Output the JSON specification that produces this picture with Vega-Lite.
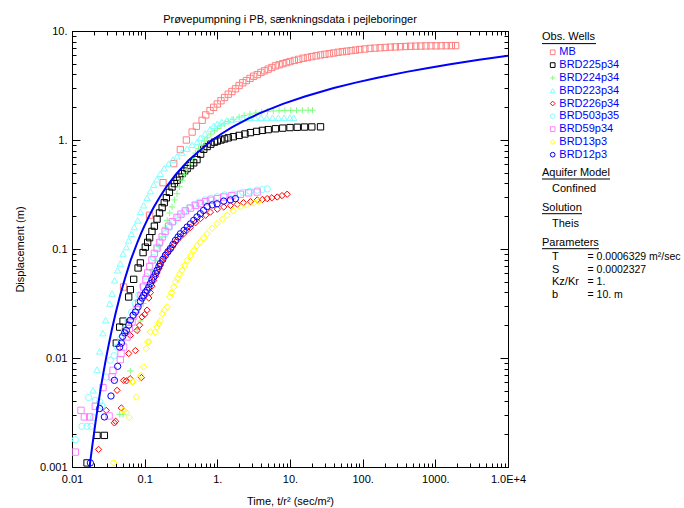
{
  "$schema": "https://vega.github.io/schema/vega-lite/v6.json",
  "padding": {"left": 13, "top": 13, "right": 0, "bottom": 0},
  "background": "white",
  "config": {"font": "Liberation Sans", "view": {"stroke": null}},
  "spacing": 23,
  "bounds": "flush",
  "datasets": {
    "obs": [
      {"well":"MB","t":0.0513,"s":0.0448},{"well":"MB","t":0.117,"s":0.204},{"well":"MB","t":0.179,"s":0.406},{"well":"MB","t":0.251,"s":0.607},{"well":"MB","t":0.310,"s":0.817},{"well":"MB","t":0.375,"s":1.0},{"well":"MB","t":0.450,"s":1.183},{"well":"MB","t":0.515,"s":1.337},{"well":"MB","t":0.618,"s":1.517},{"well":"MB","t":0.692,"s":1.698},{"well":"MB","t":0.794,"s":1.862},{"well":"MB","t":0.891,"s":1.995},{"well":"MB","t":1.0,"s":2.138},{"well":"MB","t":1.122,"s":2.291},{"well":"MB","t":1.259,"s":2.455},{"well":"MB","t":1.413,"s":2.630},{"well":"MB","t":1.585,"s":2.786},{"well":"MB","t":1.778,"s":2.951},{"well":"MB","t":1.995,"s":3.162},{"well":"MB","t":2.239,"s":3.350},{"well":"MB","t":2.512,"s":3.508},{"well":"MB","t":2.818,"s":3.673},{"well":"MB","t":3.162,"s":3.846},{"well":"MB","t":3.548,"s":3.981},{"well":"MB","t":3.981,"s":4.169},{"well":"MB","t":4.467,"s":4.315},{"well":"MB","t":5.012,"s":4.467},{"well":"MB","t":5.623,"s":4.624},{"well":"MB","t":6.310,"s":4.786},{"well":"MB","t":7.079,"s":4.898},{"well":"MB","t":7.943,"s":5.012},{"well":"MB","t":8.913,"s":5.129},{"well":"MB","t":10.0,"s":5.248},{"well":"MB","t":11.48,"s":5.370},{"well":"MB","t":13.18,"s":5.495},{"well":"MB","t":15.14,"s":5.623},{"well":"MB","t":17.38,"s":5.715},{"well":"MB","t":19.95,"s":5.821},{"well":"MB","t":22.91,"s":5.916},{"well":"MB","t":26.30,"s":6.026},{"well":"MB","t":30.20,"s":6.109},{"well":"MB","t":34.67,"s":6.194},{"well":"MB","t":39.81,"s":6.281},{"well":"MB","t":45.71,"s":6.383},{"well":"MB","t":52.48,"s":6.457},{"well":"MB","t":60.26,"s":6.531},{"well":"MB","t":69.18,"s":6.607},{"well":"MB","t":79.43,"s":6.683},{"well":"MB","t":91.20,"s":6.761},{"well":"MB","t":107.2,"s":6.839},{"well":"MB","t":125.9,"s":6.918},{"well":"MB","t":147.9,"s":6.966},{"well":"MB","t":173.8,"s":7.015},{"well":"MB","t":204.2,"s":7.063},{"well":"MB","t":239.9,"s":7.112},{"well":"MB","t":281.8,"s":7.145},{"well":"MB","t":331.1,"s":7.178},{"well":"MB","t":389.0,"s":7.211},{"well":"MB","t":457.1,"s":7.244},{"well":"MB","t":537.0,"s":7.261},{"well":"MB","t":631.0,"s":7.278},{"well":"MB","t":741.3,"s":7.295},{"well":"MB","t":871.0,"s":7.311},{"well":"MB","t":1023,"s":7.311},{"well":"MB","t":1202,"s":7.328},{"well":"MB","t":1413,"s":7.328},{"well":"MB","t":1660,"s":7.345},{"well":"MB","t":1905,"s":7.345},
      {"well":"BRD225p34","t":0.0161,"s":0.00109},{"well":"BRD225p34","t":0.0221,"s":0.00195},{"well":"BRD225p34","t":0.0279,"s":0.00195},{"well":"BRD225p34","t":0.0407,"s":0.0137},{"well":"BRD225p34","t":0.0453,"s":0.0192},{"well":"BRD225p34","t":0.0504,"s":0.0218},{"well":"BRD225p34","t":0.0603,"s":0.0363},{"well":"BRD225p34","t":0.0635,"s":0.0424},{"well":"BRD225p34","t":0.0706,"s":0.0527},{"well":"BRD225p34","t":0.0811,"s":0.0670},{"well":"BRD225p34","t":0.0873,"s":0.0745},{"well":"BRD225p34","t":0.0951,"s":0.0927},{"well":"BRD225p34","t":0.102,"s":0.104},{"well":"BRD225p34","t":0.110,"s":0.115},{"well":"BRD225p34","t":0.117,"s":0.127},{"well":"BRD225p34","t":0.126,"s":0.145},{"well":"BRD225p34","t":0.136,"s":0.162},{"well":"BRD225p34","t":0.148,"s":0.188},{"well":"BRD225p34","t":0.160,"s":0.214},{"well":"BRD225p34","t":0.174,"s":0.240},{"well":"BRD225p34","t":0.186,"s":0.266},{"well":"BRD225p34","t":0.199,"s":0.295},{"well":"BRD225p34","t":0.219,"s":0.331},{"well":"BRD225p34","t":0.238,"s":0.371},{"well":"BRD225p34","t":0.257,"s":0.398},{"well":"BRD225p34","t":0.279,"s":0.427},{"well":"BRD225p34","t":0.302,"s":0.457},{"well":"BRD225p34","t":0.327,"s":0.492},{"well":"BRD225p34","t":0.355,"s":0.519},{"well":"BRD225p34","t":0.384,"s":0.547},{"well":"BRD225p34","t":0.427,"s":0.582},{"well":"BRD225p34","t":0.473,"s":0.617},{"well":"BRD225p34","t":0.525,"s":0.661},{"well":"BRD225p34","t":0.589,"s":0.741},{"well":"BRD225p34","t":0.650,"s":0.822},{"well":"BRD225p34","t":0.724,"s":0.871},{"well":"BRD225p34","t":0.813,"s":0.916},{"well":"BRD225p34","t":0.912,"s":0.955},{"well":"BRD225p34","t":1.0,"s":0.977},{"well":"BRD225p34","t":1.122,"s":1.0},{"well":"BRD225p34","t":1.259,"s":1.023},{"well":"BRD225p34","t":1.413,"s":1.047},{"well":"BRD225p34","t":1.660,"s":1.072},{"well":"BRD225p34","t":1.995,"s":1.102},{"well":"BRD225p34","t":2.399,"s":1.135},{"well":"BRD225p34","t":2.858,"s":1.169},{"well":"BRD225p34","t":3.467,"s":1.199},{"well":"BRD225p34","t":4.169,"s":1.225},{"well":"BRD225p34","t":5.012,"s":1.245},{"well":"BRD225p34","t":6.310,"s":1.268},{"well":"BRD225p34","t":7.943,"s":1.285},{"well":"BRD225p34","t":10.0,"s":1.300},{"well":"BRD225p34","t":12.59,"s":1.309},{"well":"BRD225p34","t":15.85,"s":1.315},{"well":"BRD225p34","t":19.95,"s":1.318},{"well":"BRD225p34","t":26.30,"s":1.321},
      {"well":"BRD224p34","t":0.0453,"s":0.00304},{"well":"BRD224p34","t":0.0504,"s":0.00304},{"well":"BRD224p34","t":0.0635,"s":0.0076},{"well":"BRD224p34","t":0.0785,"s":0.0182},{"well":"BRD224p34","t":0.0873,"s":0.0218},{"well":"BRD224p34","t":0.0955,"s":0.0316},{"well":"BRD224p34","t":0.110,"s":0.0468},{"well":"BRD224p34","t":0.126,"s":0.0631},{"well":"BRD224p34","t":0.140,"s":0.0787},{"well":"BRD224p34","t":0.158,"s":0.105},{"well":"BRD224p34","t":0.174,"s":0.129},{"well":"BRD224p34","t":0.191,"s":0.158},{"well":"BRD224p34","t":0.204,"s":0.183},{"well":"BRD224p34","t":0.221,"s":0.214},{"well":"BRD224p34","t":0.238,"s":0.243},{"well":"BRD224p34","t":0.257,"s":0.282},{"well":"BRD224p34","t":0.279,"s":0.322},{"well":"BRD224p34","t":0.302,"s":0.372},{"well":"BRD224p34","t":0.327,"s":0.427},{"well":"BRD224p34","t":0.355,"s":0.479},{"well":"BRD224p34","t":0.384,"s":0.537},{"well":"BRD224p34","t":0.417,"s":0.603},{"well":"BRD224p34","t":0.457,"s":0.676},{"well":"BRD224p34","t":0.501,"s":0.759},{"well":"BRD224p34","t":0.550,"s":0.832},{"well":"BRD224p34","t":0.603,"s":0.902},{"well":"BRD224p34","t":0.661,"s":0.977},{"well":"BRD224p34","t":0.724,"s":1.047},{"well":"BRD224p34","t":0.813,"s":1.135},{"well":"BRD224p34","t":0.912,"s":1.216},{"well":"BRD224p34","t":1.0,"s":1.274},{"well":"BRD224p34","t":1.122,"s":1.349},{"well":"BRD224p34","t":1.259,"s":1.413},{"well":"BRD224p34","t":1.413,"s":1.479},{"well":"BRD224p34","t":1.660,"s":1.549},{"well":"BRD224p34","t":1.995,"s":1.622},{"well":"BRD224p34","t":2.344,"s":1.679},{"well":"BRD224p34","t":2.818,"s":1.730},{"well":"BRD224p34","t":3.388,"s":1.770},{"well":"BRD224p34","t":4.074,"s":1.803},{"well":"BRD224p34","t":4.898,"s":1.828},{"well":"BRD224p34","t":5.888,"s":1.845},{"well":"BRD224p34","t":7.079,"s":1.858},{"well":"BRD224p34","t":8.511,"s":1.866},{"well":"BRD224p34","t":10.23,"s":1.871},{"well":"BRD224p34","t":12.30,"s":1.871},{"well":"BRD224p34","t":14.79,"s":1.875},{"well":"BRD224p34","t":17.78,"s":1.875},{"well":"BRD224p34","t":20.42,"s":1.875},
      {"well":"BRD223p34","t":0.0195,"s":0.00505},{"well":"BRD223p34","t":0.0221,"s":0.00783},{"well":"BRD223p34","t":0.0240,"s":0.0115},{"well":"BRD223p34","t":0.0267,"s":0.0169},{"well":"BRD223p34","t":0.0290,"s":0.0222},{"well":"BRD223p34","t":0.0330,"s":0.0316},{"well":"BRD223p34","t":0.0356,"s":0.0390},{"well":"BRD223p34","t":0.0386,"s":0.0516},{"well":"BRD223p34","t":0.0425,"s":0.0638},{"well":"BRD223p34","t":0.0462,"s":0.0735},{"well":"BRD223p34","t":0.0504,"s":0.0908},{"well":"BRD223p34","t":0.0560,"s":0.104},{"well":"BRD223p34","t":0.0603,"s":0.120},{"well":"BRD223p34","t":0.0656,"s":0.138},{"well":"BRD223p34","t":0.0721,"s":0.159},{"well":"BRD223p34","t":0.0802,"s":0.183},{"well":"BRD223p34","t":0.0873,"s":0.219},{"well":"BRD223p34","t":0.0968,"s":0.252},{"well":"BRD223p34","t":0.108,"s":0.295},{"well":"BRD223p34","t":0.120,"s":0.339},{"well":"BRD223p34","t":0.133,"s":0.389},{"well":"BRD223p34","t":0.148,"s":0.437},{"well":"BRD223p34","t":0.164,"s":0.490},{"well":"BRD223p34","t":0.186,"s":0.550},{"well":"BRD223p34","t":0.214,"s":0.607},{"well":"BRD223p34","t":0.245,"s":0.661},{"well":"BRD223p34","t":0.279,"s":0.708},{"well":"BRD223p34","t":0.324,"s":0.767},{"well":"BRD223p34","t":0.384,"s":0.834},{"well":"BRD223p34","t":0.447,"s":0.902},{"well":"BRD223p34","t":0.527,"s":0.959},{"well":"BRD223p34","t":0.585,"s":1.047},{"well":"BRD223p34","t":0.676,"s":1.148},{"well":"BRD223p34","t":0.794,"s":1.259},{"well":"BRD223p34","t":0.891,"s":1.349},{"well":"BRD223p34","t":1.0,"s":1.413},{"well":"BRD223p34","t":1.148,"s":1.462},{"well":"BRD223p34","t":1.349,"s":1.507},{"well":"BRD223p34","t":1.585,"s":1.542},{"well":"BRD223p34","t":1.905,"s":1.567},{"well":"BRD223p34","t":2.291,"s":1.585},{"well":"BRD223p34","t":2.754,"s":1.596},{"well":"BRD223p34","t":3.311,"s":1.603},{"well":"BRD223p34","t":3.981,"s":1.603},{"well":"BRD223p34","t":4.786,"s":1.603},{"well":"BRD223p34","t":5.754,"s":1.603},{"well":"BRD223p34","t":6.918,"s":1.603},{"well":"BRD223p34","t":8.318,"s":1.603},{"well":"BRD223p34","t":10.0,"s":1.603},{"well":"BRD223p34","t":11.22,"s":1.603},
      {"well":"BRD226p34","t":0.0232,"s":0.00145},{"well":"BRD226p34","t":0.0296,"s":0.00331},{"well":"BRD226p34","t":0.0383,"s":0.00254},{"well":"BRD226p34","t":0.0398,"s":0.00263},{"well":"BRD226p34","t":0.0478,"s":0.00348},{"well":"BRD226p34","t":0.0417,"s":0.00505},{"well":"BRD226p34","t":0.0514,"s":0.00624},{"well":"BRD226p34","t":0.0562,"s":0.00617},{"well":"BRD226p34","t":0.0631,"s":0.00646},{"well":"BRD226p34","t":0.0902,"s":0.00661},{"well":"BRD226p34","t":0.0603,"s":0.0110},{"well":"BRD226p34","t":0.0745,"s":0.0117},{"well":"BRD226p34","t":0.0635,"s":0.0161},{"well":"BRD226p34","t":0.0785,"s":0.0179},{"well":"BRD226p34","t":0.0851,"s":0.0200},{"well":"BRD226p34","t":0.0920,"s":0.0238},{"well":"BRD226p34","t":0.100,"s":0.0251},{"well":"BRD226p34","t":0.108,"s":0.0275},{"well":"BRD226p34","t":0.114,"s":0.0355},{"well":"BRD226p34","t":0.120,"s":0.0398},{"well":"BRD226p34","t":0.126,"s":0.0457},{"well":"BRD226p34","t":0.133,"s":0.0513},{"well":"BRD226p34","t":0.141,"s":0.0562},{"well":"BRD226p34","t":0.148,"s":0.0603},{"well":"BRD226p34","t":0.157,"s":0.0661},{"well":"BRD226p34","t":0.164,"s":0.0708},{"well":"BRD226p34","t":0.174,"s":0.0776},{"well":"BRD226p34","t":0.183,"s":0.0832},{"well":"BRD226p34","t":0.200,"s":0.0912},{"well":"BRD226p34","t":0.219,"s":0.0977},{"well":"BRD226p34","t":0.238,"s":0.104},{"well":"BRD226p34","t":0.257,"s":0.112},{"well":"BRD226p34","t":0.279,"s":0.120},{"well":"BRD226p34","t":0.309,"s":0.129},{"well":"BRD226p34","t":0.344,"s":0.138},{"well":"BRD226p34","t":0.380,"s":0.148},{"well":"BRD226p34","t":0.426,"s":0.158},{"well":"BRD226p34","t":0.501,"s":0.174},{"well":"BRD226p34","t":0.585,"s":0.190},{"well":"BRD226p34","t":0.692,"s":0.204},{"well":"BRD226p34","t":0.804,"s":0.218},{"well":"BRD226p34","t":1.0,"s":0.232},{"well":"BRD226p34","t":1.225,"s":0.243},{"well":"BRD226p34","t":1.514,"s":0.251},{"well":"BRD226p34","t":1.875,"s":0.257},{"well":"BRD226p34","t":2.291,"s":0.266},{"well":"BRD226p34","t":2.858,"s":0.272},{"well":"BRD226p34","t":3.548,"s":0.282},{"well":"BRD226p34","t":4.169,"s":0.285},{"well":"BRD226p34","t":4.853,"s":0.290},{"well":"BRD226p34","t":5.623,"s":0.295},{"well":"BRD226p34","t":6.668,"s":0.300},{"well":"BRD226p34","t":7.762,"s":0.309},{"well":"BRD226p34","t":9.141,"s":0.318},
      {"well":"BRD503p35","t":0.0111,"s":0.00178},{"well":"BRD503p35","t":0.0137,"s":0.00236},{"well":"BRD503p35","t":0.0161,"s":0.00236},{"well":"BRD503p35","t":0.0183,"s":0.00236},{"well":"BRD503p35","t":0.0169,"s":0.00434},{"well":"BRD503p35","t":0.0199,"s":0.00284},{"well":"BRD503p35","t":0.0209,"s":0.00409},{"well":"BRD503p35","t":0.0240,"s":0.00394},{"well":"BRD503p35","t":0.0259,"s":0.00363},{"well":"BRD503p35","t":0.0296,"s":0.00670},{"well":"BRD503p35","t":0.0337,"s":0.00953},{"well":"BRD503p35","t":0.0380,"s":0.0105},{"well":"BRD503p35","t":0.0417,"s":0.0126},{"well":"BRD503p35","t":0.0468,"s":0.0151},{"well":"BRD503p35","t":0.0525,"s":0.0182},{"well":"BRD503p35","t":0.0589,"s":0.0219},{"well":"BRD503p35","t":0.0661,"s":0.0263},{"well":"BRD503p35","t":0.0741,"s":0.0316},{"well":"BRD503p35","t":0.0832,"s":0.0380},{"well":"BRD503p35","t":0.0933,"s":0.0457},{"well":"BRD503p35","t":0.105,"s":0.0562},{"well":"BRD503p35","t":0.117,"s":0.0692},{"well":"BRD503p35","t":0.132,"s":0.0832},{"well":"BRD503p35","t":0.148,"s":0.100},{"well":"BRD503p35","t":0.166,"s":0.117},{"well":"BRD503p35","t":0.191,"s":0.138},{"well":"BRD503p35","t":0.219,"s":0.158},{"well":"BRD503p35","t":0.251,"s":0.178},{"well":"BRD503p35","t":0.295,"s":0.200},{"well":"BRD503p35","t":0.347,"s":0.219},{"well":"BRD503p35","t":0.407,"s":0.240},{"well":"BRD503p35","t":0.479,"s":0.257},{"well":"BRD503p35","t":0.562,"s":0.269},{"well":"BRD503p35","t":0.676,"s":0.282},{"well":"BRD503p35","t":0.813,"s":0.292},{"well":"BRD503p35","t":1.0,"s":0.302},{"well":"BRD503p35","t":1.259,"s":0.313},{"well":"BRD503p35","t":1.683,"s":0.320},{"well":"BRD503p35","t":2.239,"s":0.331},{"well":"BRD503p35","t":2.818,"s":0.339},{"well":"BRD503p35","t":3.548,"s":0.347},{"well":"BRD503p35","t":4.169,"s":0.351},{"well":"BRD503p35","t":4.853,"s":0.356},
      {"well":"BRD59p34","t":0.0111,"s":0.00137},{"well":"BRD59p34","t":0.0133,"s":0.00331},{"well":"BRD59p34","t":0.0148,"s":0.00288},{"well":"BRD59p34","t":0.0175,"s":0.00288},{"well":"BRD59p34","t":0.0209,"s":0.00361},{"well":"BRD59p34","t":0.0267,"s":0.00535},{"well":"BRD59p34","t":0.0324,"s":0.00294},{"well":"BRD59p34","t":0.0356,"s":0.00670},{"well":"BRD59p34","t":0.0367,"s":0.00771},{"well":"BRD59p34","t":0.0462,"s":0.00966},{"well":"BRD59p34","t":0.0473,"s":0.0110},{"well":"BRD59p34","t":0.0514,"s":0.0126},{"well":"BRD59p34","t":0.0573,"s":0.0156},{"well":"BRD59p34","t":0.0615,"s":0.0186},{"well":"BRD59p34","t":0.0670,"s":0.0214},{"well":"BRD59p34","t":0.0706,"s":0.0242},{"well":"BRD59p34","t":0.0769,"s":0.0278},{"well":"BRD59p34","t":0.0826,"s":0.0320},{"well":"BRD59p34","t":0.0891,"s":0.0372},{"well":"BRD59p34","t":0.0968,"s":0.0447},{"well":"BRD59p34","t":0.104,"s":0.0525},{"well":"BRD59p34","t":0.110,"s":0.0603},{"well":"BRD59p34","t":0.117,"s":0.0692},{"well":"BRD59p34","t":0.126,"s":0.0794},{"well":"BRD59p34","t":0.136,"s":0.0912},{"well":"BRD59p34","t":0.148,"s":0.102},{"well":"BRD59p34","t":0.160,"s":0.115},{"well":"BRD59p34","t":0.174,"s":0.129},{"well":"BRD59p34","t":0.191,"s":0.145},{"well":"BRD59p34","t":0.214,"s":0.162},{"well":"BRD59p34","t":0.240,"s":0.178},{"well":"BRD59p34","t":0.279,"s":0.195},{"well":"BRD59p34","t":0.316,"s":0.209},{"well":"BRD59p34","t":0.363,"s":0.224},{"well":"BRD59p34","t":0.426,"s":0.237},{"well":"BRD59p34","t":0.501,"s":0.251},{"well":"BRD59p34","t":0.585,"s":0.261},{"well":"BRD59p34","t":0.692,"s":0.272},{"well":"BRD59p34","t":0.804,"s":0.280},{"well":"BRD59p34","t":1.0,"s":0.290},{"well":"BRD59p34","t":1.225,"s":0.300},{"well":"BRD59p34","t":1.585,"s":0.309},{"well":"BRD59p34","t":2.080,"s":0.318},{"well":"BRD59p34","t":2.692,"s":0.327},{"well":"BRD59p34","t":3.532,"s":0.333},
      {"well":"BRD13p3","t":0.0374,"s":0.00109},{"well":"BRD13p3","t":0.0514,"s":0.00331},{"well":"BRD13p3","t":0.0615,"s":0.00284},{"well":"BRD13p3","t":0.0562,"s":0.00316},{"well":"BRD13p3","t":0.0769,"s":0.00439},{"well":"BRD13p3","t":0.0670,"s":0.00603},{"well":"BRD13p3","t":0.0692,"s":0.00603},{"well":"BRD13p3","t":0.0826,"s":0.00647},{"well":"BRD13p3","t":0.0891,"s":0.00693},{"well":"BRD13p3","t":0.0968,"s":0.00826},{"well":"BRD13p3","t":0.105,"s":0.0122},{"well":"BRD13p3","t":0.110,"s":0.0140},{"well":"BRD13p3","t":0.115,"s":0.0141},{"well":"BRD13p3","t":0.120,"s":0.0173},{"well":"BRD13p3","t":0.140,"s":0.0173},{"well":"BRD13p3","t":0.148,"s":0.0192},{"well":"BRD13p3","t":0.156,"s":0.0207},{"well":"BRD13p3","t":0.164,"s":0.0219},{"well":"BRD13p3","t":0.174,"s":0.0255},{"well":"BRD13p3","t":0.187,"s":0.0274},{"well":"BRD13p3","t":0.204,"s":0.0294},{"well":"BRD13p3","t":0.221,"s":0.0363},{"well":"BRD13p3","t":0.234,"s":0.0398},{"well":"BRD13p3","t":0.251,"s":0.0447},{"well":"BRD13p3","t":0.266,"s":0.0501},{"well":"BRD13p3","t":0.279,"s":0.0535},{"well":"BRD13p3","t":0.302,"s":0.0589},{"well":"BRD13p3","t":0.327,"s":0.0638},{"well":"BRD13p3","t":0.355,"s":0.0708},{"well":"BRD13p3","t":0.384,"s":0.0787},{"well":"BRD13p3","t":0.427,"s":0.0871},{"well":"BRD13p3","t":0.473,"s":0.0973},{"well":"BRD13p3","t":0.525,"s":0.107},{"well":"BRD13p3","t":0.585,"s":0.116},{"well":"BRD13p3","t":0.646,"s":0.126},{"well":"BRD13p3","t":0.724,"s":0.138},{"well":"BRD13p3","t":0.851,"s":0.155},{"well":"BRD13p3","t":0.993,"s":0.171},{"well":"BRD13p3","t":1.175,"s":0.188},{"well":"BRD13p3","t":1.365,"s":0.204},{"well":"BRD13p3","t":1.660,"s":0.224},{"well":"BRD13p3","t":2.080,"s":0.243},{"well":"BRD13p3","t":2.512,"s":0.254},{"well":"BRD13p3","t":3.170,"s":0.264},{"well":"BRD13p3","t":3.715,"s":0.275},
      {"well":"BRD12p3","t":0.0179,"s":0.00109},{"well":"BRD12p3","t":0.0240,"s":0.00344},{"well":"BRD12p3","t":0.0279,"s":0.00288},{"well":"BRD12p3","t":0.0344,"s":0.00448},{"well":"BRD12p3","t":0.0383,"s":0.00624},{"well":"BRD12p3","t":0.0425,"s":0.00839},{"well":"BRD12p3","t":0.0453,"s":0.0126},{"well":"BRD12p3","t":0.0478,"s":0.0137},{"well":"BRD12p3","t":0.0498,"s":0.0158},{"well":"BRD12p3","t":0.0531,"s":0.0170},{"well":"BRD12p3","t":0.0560,"s":0.0179},{"well":"BRD12p3","t":0.0603,"s":0.0200},{"well":"BRD12p3","t":0.0635,"s":0.0222},{"well":"BRD12p3","t":0.0692,"s":0.0247},{"well":"BRD12p3","t":0.0745,"s":0.0264},{"well":"BRD12p3","t":0.0811,"s":0.0294},{"well":"BRD12p3","t":0.0873,"s":0.0331},{"well":"BRD12p3","t":0.0923,"s":0.0355},{"well":"BRD12p3","t":0.0968,"s":0.0376},{"well":"BRD12p3","t":0.102,"s":0.0398},{"well":"BRD12p3","t":0.108,"s":0.0418},{"well":"BRD12p3","t":0.114,"s":0.0447},{"well":"BRD12p3","t":0.120,"s":0.0482},{"well":"BRD12p3","t":0.126,"s":0.0519},{"well":"BRD12p3","t":0.133,"s":0.0553},{"well":"BRD12p3","t":0.141,"s":0.0596},{"well":"BRD12p3","t":0.148,"s":0.0638},{"well":"BRD12p3","t":0.157,"s":0.0692},{"well":"BRD12p3","t":0.164,"s":0.0735},{"well":"BRD12p3","t":0.178,"s":0.0804},{"well":"BRD12p3","t":0.193,"s":0.0875},{"well":"BRD12p3","t":0.209,"s":0.0944},{"well":"BRD12p3","t":0.226,"s":0.101},{"well":"BRD12p3","t":0.245,"s":0.110},{"well":"BRD12p3","t":0.265,"s":0.120},{"well":"BRD12p3","t":0.288,"s":0.129},{"well":"BRD12p3","t":0.310,"s":0.138},{"well":"BRD12p3","t":0.347,"s":0.148},{"well":"BRD12p3","t":0.384,"s":0.159},{"well":"BRD12p3","t":0.427,"s":0.170},{"well":"BRD12p3","t":0.473,"s":0.183},{"well":"BRD12p3","t":0.525,"s":0.197},{"well":"BRD12p3","t":0.585,"s":0.211},{"well":"BRD12p3","t":0.646,"s":0.226},{"well":"BRD12p3","t":0.724,"s":0.245},{"well":"BRD12p3","t":0.851,"s":0.254},{"well":"BRD12p3","t":0.993,"s":0.260},{"well":"BRD12p3","t":1.225,"s":0.275},{"well":"BRD12p3","t":1.514,"s":0.282},{"well":"BRD12p3","t":1.774,"s":0.290}
    ],
    "theis": [
      {"t":0.016,"s":0.00061},{"t":0.01778,"s":0.001101},{"t":0.01882,"s":0.001485},{"t":0.02,"s":0.002007},{"t":0.02133,"s":0.002726},{"t":0.02286,"s":0.003701},{"t":0.02462,"s":0.005064},{"t":0.02667,"s":0.00693},{"t":0.02909,"s":0.009574},{"t":0.032,"s":0.01323},{"t":0.03556,"s":0.01853},{"t":0.04,"s":0.02597},{"t":0.04571,"s":0.03714},{"t":0.05333,"s":0.0531},{"t":0.064,"s":0.0786},{"t":0.08,"s":0.1165},{"t":0.0889,"s":0.1382},{"t":0.1,"s":0.1649},{"t":0.1143,"s":0.1985},{"t":0.1333,"s":0.2413},{"t":0.16,"s":0.2973},{"t":0.2,"s":0.373},{"t":0.2667,"s":0.481},{"t":0.4,"s":0.649},{"t":0.8,"s":0.968},{"t":1.143,"s":1.142},{"t":1.6,"s":1.311},{"t":2.667,"s":1.571},{"t":4,"s":1.781},{"t":8,"s":2.144},{"t":16,"s":2.507},{"t":40,"s":2.994},{"t":80,"s":3.362},{"t":160,"s":3.730},{"t":400,"s":4.216},{"t":800,"s":4.584},{"t":1600,"s":4.952},{"t":4000,"s":5.439},{"t":10000,"s":5.925}
    ],
    "sidetext": [
      {"x":11,"y":6.3,"label":"Obs. Wells"},
      {"x":11,"y":142.3,"label":"Aquifer Model"},
      {"x":21,"y":158,"label":"Confined"},
      {"x":11,"y":177,"label":"Solution"},
      {"x":21,"y":192.5,"label":"Theis"},
      {"x":11,"y":212,"label":"Parameters"},
      {"x":21,"y":226,"label":"T"},
      {"x":21,"y":238.5,"label":"S"},
      {"x":21,"y":251,"label":"Kz/Kr"},
      {"x":21,"y":264,"label":"b"}
    ],
    "sidevalues": [
      {"x":56.5,"y":226,"label":"= 0.0006329 m²/sec"},
      {"x":56.5,"y":238.5,"label":"= 0.0002327"},
      {"x":56.5,"y":251,"label":"= 1."},
      {"x":56.5,"y":264,"label":"= 10. m"}
    ],
    "wells": [
      {"well":"MB","y":21.3,"sx":21.7,"tx":28.3},
      {"well":"BRD225p34","y":34.1,"sx":21.7,"tx":28.3},
      {"well":"BRD224p34","y":46.9,"sx":21.7,"tx":28.3},
      {"well":"BRD223p34","y":59.7,"sx":21.7,"tx":28.3},
      {"well":"BRD226p34","y":72.5,"sx":21.7,"tx":28.3},
      {"well":"BRD503p35","y":85.3,"sx":21.7,"tx":28.3},
      {"well":"BRD59p34","y":98.1,"sx":21.7,"tx":28.3},
      {"well":"BRD13p3","y":110.9,"sx":21.7,"tx":28.3},
      {"well":"BRD12p3","y":123.7,"sx":21.7,"tx":28.3}
    ],
    "underlines": [
      {"x":11,"x2":65,"y":12.6},
      {"x":11,"x2":79,"y":148},
      {"x":11,"x2":51,"y":182.7},
      {"x":11,"x2":68,"y":217.7}
    ]
  },
  "hconcat": [
    {
      "width": 436,
      "height": 436,
      "title": {"text": "Prøvepumpning i PB, sænkningsdata i pejleboringer", "fontSize": 11, "fontWeight": "normal", "color": "black", "anchor": "middle", "offset": 0},
      "view": {"stroke": "black", "strokeWidth": 1},
      "layer": [
        {
          "data": {"name": "obs"},
          "mark": {"type": "point", "filled": false, "strokeWidth": 1, "opacity": 1, "clip": true},
          "encoding": {
            "x": {"field": "t", "type": "quantitative",
              "scale": {"type": "log", "domain": [0.01, 10000], "nice": false},
              "axis": {"orient": "bottom", "values": [0.01,0.02,0.03,0.04,0.05,0.06,0.07,0.08,0.09,0.1,0.2,0.3,0.4,0.5,0.6,0.7,0.8,0.9,1,2,3,4,5,6,7,8,9,10,20,30,40,50,60,70,80,90,100,200,300,400,500,600,700,800,900,1000,2000,3000,4000,5000,6000,7000,8000,9000,10000],
                "title": "Time, t/r² (sec/m²)", "titleFontSize": 11, "titleFontWeight": "normal", "titleColor": "black", "titlePadding": 7,
                "labelExpr": "abs(log(datum.value)/LN10 - round(log(datum.value)/LN10)) < 0.001 ? (datum.value > 5000 ? '1.0E+4' : (datum.value >= 1 ? format(datum.value, 'd') + '.' : format(datum.value, '~g'))) : ''",
                "labelFontSize": 11, "labelColor": "black", "labelFlush": false, "labelOverlap": false, "labelPadding": 14.5, "labelAngle": 0,
                "tickSize": {"condition": {"test": "abs(log(datum.value)/LN10 - round(log(datum.value)/LN10)) < 0.001", "value": -8}, "value": -4},
                "tickColor": "black", "domainColor": "black", "grid": false}},
            "y": {"field": "s", "type": "quantitative",
              "scale": {"type": "log", "domain": [0.001, 10], "nice": false},
              "axis": {"orient": "left", "values": [0.001,0.002,0.003,0.004,0.005,0.006,0.007,0.008,0.009,0.01,0.02,0.03,0.04,0.05,0.06,0.07,0.08,0.09,0.1,0.2,0.3,0.4,0.5,0.6,0.7,0.8,0.9,1,2,3,4,5,6,7,8,9,10],
                "title": "Displacement (m)", "titleFontSize": 11, "titleFontWeight": "normal", "titleColor": "black", "titlePadding": 14,
                "labelExpr": "abs(log(datum.value)/LN10 - round(log(datum.value)/LN10)) < 0.001 ? (datum.value >= 1 ? format(datum.value, 'd') + '.' : format(datum.value, '~g')) : ''",
                "labelFontSize": 11, "labelColor": "black", "labelFlush": false, "labelOverlap": false, "labelPadding": 13,
                "tickSize": {"condition": {"test": "abs(log(datum.value)/LN10 - round(log(datum.value)/LN10)) < 0.001", "value": -8}, "value": -4},
                "tickColor": "black", "domainColor": "black", "grid": false}},
            "color": {"field": "well", "type": "nominal",
              "scale": {"domain": ["MB","BRD225p34","BRD224p34","BRD223p34","BRD226p34","BRD503p35","BRD59p34","BRD13p3","BRD12p3"],
                        "range": ["#FF8080","#000000","#80FF80","#80FFFF","#FF0000","#80FFFF","#FF80FF","#FFFF00","#0000FF"]},
              "legend": null},
            "shape": {"field": "well", "type": "nominal",
              "scale": {"domain": ["MB","BRD225p34","BRD224p34","BRD223p34","BRD226p34","BRD503p35","BRD59p34","BRD13p3","BRD12p3"],
                        "range": ["square","square","M-1,0L1,0M0,-1L0,1","triangle-up","diamond","circle","square","diamond","circle"]},
              "legend": null},
            "size": {"field": "well", "type": "nominal",
              "scale": {"domain": ["MB","BRD225p34","BRD224p34","BRD223p34","BRD226p34","BRD503p35","BRD59p34","BRD13p3","BRD12p3"],
                        "range": [40,40,36,30,30,22,40,30,22]},
              "legend": null}
          }
        },
        {
          "data": {"name": "theis"},
          "mark": {"type": "line", "color": "#0000FF", "strokeWidth": 2, "clip": true},
          "encoding": {
            "x": {"field": "t", "type": "quantitative",
              "axis": {"orient": "top", "values": [0.01,0.02,0.03,0.04,0.05,0.06,0.07,0.08,0.09,0.1,0.2,0.3,0.4,0.5,0.6,0.7,0.8,0.9,1,2,3,4,5,6,7,8,9,10,20,30,40,50,60,70,80,90,100,200,300,400,500,600,700,800,900,1000,2000,3000,4000,5000,6000,7000,8000,9000,10000],
                "title": null, "labels": false,
                "tickSize": {"condition": {"test": "abs(log(datum.value)/LN10 - round(log(datum.value)/LN10)) < 0.001", "value": -8}, "value": -4},
                "tickColor": "black", "domainColor": "black", "grid": false}},
            "y": {"field": "s", "type": "quantitative",
              "axis": {"orient": "right", "values": [0.001,0.002,0.003,0.004,0.005,0.006,0.007,0.008,0.009,0.01,0.02,0.03,0.04,0.05,0.06,0.07,0.08,0.09,0.1,0.2,0.3,0.4,0.5,0.6,0.7,0.8,0.9,1,2,3,4,5,6,7,8,9,10],
                "title": null, "labels": false,
                "tickSize": {"condition": {"test": "abs(log(datum.value)/LN10 - round(log(datum.value)/LN10)) < 0.001", "value": -8}, "value": -4},
                "tickColor": "black", "domainColor": "black", "grid": false}}
          }
        }
      ],
      "resolve": {"axis": {"x": "independent", "y": "independent"}}
    },
    {
      "width": 150,
      "height": 436,
      "view": {"stroke": null},
      "layer": [
        {
          "data": {"name": "underlines"},
          "mark": {"type": "rule", "color": "black", "strokeWidth": 1},
          "encoding": {
            "x": {"field": "x", "type": "quantitative", "scale": {"domain": [0, 150]}, "axis": null},
            "x2": {"field": "x2"},
            "y": {"field": "y", "type": "quantitative", "scale": {"domain": [0, 436], "reverse": true}, "axis": null}
          }
        },
        {
          "data": {"name": "sidetext"},
          "mark": {"type": "text", "align": "left", "baseline": "middle", "fontSize": 11, "color": "black"},
          "encoding": {
            "x": {"field": "x", "type": "quantitative", "scale": {"domain": [0, 150]}, "axis": null},
            "y": {"field": "y", "type": "quantitative", "scale": {"domain": [0, 436], "reverse": true}, "axis": null},
            "text": {"field": "label"}
          }
        },
        {
          "data": {"name": "sidevalues"},
          "mark": {"type": "text", "align": "left", "baseline": "middle", "fontSize": 10.5, "color": "black"},
          "encoding": {
            "x": {"field": "x", "type": "quantitative", "scale": {"domain": [0, 150]}, "axis": null},
            "y": {"field": "y", "type": "quantitative", "scale": {"domain": [0, 436], "reverse": true}, "axis": null},
            "text": {"field": "label"}
          }
        },
        {
          "data": {"name": "wells"},
          "mark": {"type": "text", "align": "left", "baseline": "middle", "fontSize": 11, "color": "#0000FF"},
          "encoding": {
            "x": {"field": "tx", "type": "quantitative", "scale": {"domain": [0, 150]}, "axis": null},
            "y": {"field": "y", "type": "quantitative", "scale": {"domain": [0, 436], "reverse": true}, "axis": null},
            "text": {"field": "well"}
          }
        },
        {
          "data": {"name": "wells"},
          "mark": {"type": "point", "filled": false, "strokeWidth": 1, "size": 22, "opacity": 1},
          "encoding": {
            "x": {"field": "sx", "type": "quantitative", "scale": {"domain": [0, 150]}, "axis": null},
            "y": {"field": "y", "type": "quantitative", "scale": {"domain": [0, 436], "reverse": true}, "axis": null},
            "color": {"field": "well", "type": "nominal", "legend": null},
            "shape": {"field": "well", "type": "nominal", "legend": null}
          }
        }
      ]
    }
  ]
}
